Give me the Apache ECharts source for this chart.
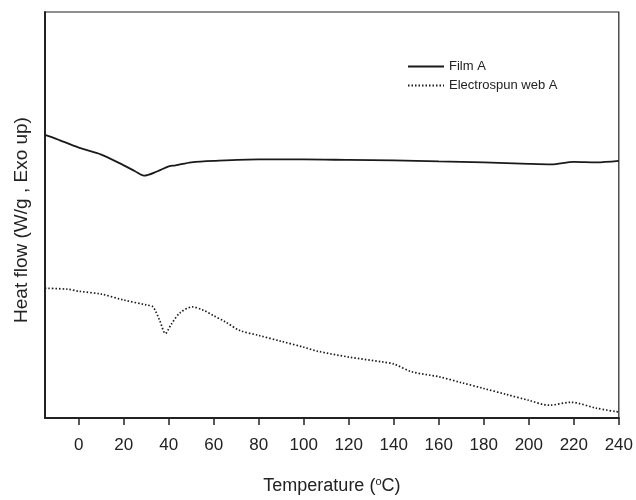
<!DOCTYPE html>
<html>
<head>
<meta charset="utf-8">
<script src="https://cdn.jsdelivr.net/npm/echarts@6/dist/echarts.min.js"></script>
<style>html,body{margin:0;padding:0;background:#fff}#c{width:636px;height:500px}</style>
</head>
<body>
<div id="c"></div>
<script>
// Temperature (°C) and heat flow (arbitrary units)
const filmT = [-15, -10, 0, 10, 20, 25, 29, 35, 40, 43, 50, 60, 80, 100, 120, 140, 160, 180, 200, 210, 220, 230, 240];
const filmV = [288, 284, 275, 268, 257, 251, 246.5, 251, 256, 257, 260, 261.5, 263, 263, 262.5, 262, 261, 260, 258.5, 258, 260.5, 260, 261.5];
const webT = [-15, -5, 0, 10, 20, 30, 33, 36, 38.5, 41, 45, 50.5, 55, 60, 65, 71.6, 80, 90, 100, 106, 120, 135, 140, 148, 160, 170, 180, 190, 200, 209, 218.7, 230, 240];
const webV = [132, 131, 129, 126, 120, 115, 113, 99, 86, 95, 107, 113, 110, 104, 98, 89, 84, 78, 72, 68, 62, 57, 55, 47, 42, 36, 30, 24, 18, 13, 16, 10, 6];
const xTicks = [0, 20, 40, 60, 80, 100, 120, 140, 160, 180, 200, 220, 240];
const seriesNames = ['Film A', 'Electrospun web A'];

const zip = (a, b) => a.map((v, i) => [v, b[i]]);
const FONT = 'Liberation Sans, Arial, sans-serif';
const chart = echarts.init(document.getElementById('c'), null, {renderer: 'canvas'});
chart.setOption({
  animation: false,
  backgroundColor: '#fff',
  textStyle: {fontFamily: FONT},
  grid: {left: 45, right: 17, top: 12, bottom: 75, show: true, borderColor: '#222', borderWidth: 1.2, backgroundColor: 'transparent'},
  legend: {
    orient: 'vertical', left: 402, top: 55, itemWidth: 36, itemHeight: 10, itemGap: 6,
    itemStyle: {opacity: 0},
    textStyle: {fontSize: 13, color: '#222', fontFamily: FONT},
    data: seriesNames
  },
  xAxis: {
    type: 'value', min: -15, max: 240,
    name: 'Temperature ({s|o}C)', nameLocation: 'middle', nameGap: 58,
    nameTextStyle: {fontSize: 18, color: '#222', fontFamily: FONT, rich: {s: {fontSize: 11, padding: [0, 0, 9, 0], fontFamily: FONT, color: '#222'}}},
    axisLine: {show: true, onZero: false, lineStyle: {color: '#222', width: 2}},
    axisTick: {show: true, inside: false, length: 7, customValues: xTicks, lineStyle: {color: '#222', width: 1.5}},
    axisLabel: {customValues: xTicks, fontSize: 17, color: '#222', margin: 19, fontFamily: FONT},
    splitLine: {show: false}
  },
  yAxis: {
    type: 'value', min: 0, max: 413,
    name: 'Heat flow (W/g , Exo up)', nameLocation: 'middle', nameGap: 14,
    nameTextStyle: {fontSize: 19, color: '#222', fontFamily: FONT, padding: [0, 10, 0, 0]},
    axisLine: {show: true, onZero: false, lineStyle: {color: '#222', width: 2}},
    axisTick: {show: false}, axisLabel: {show: false}, splitLine: {show: false}
  },
  series: [
    {name: seriesNames[0], type: 'line', data: zip(filmT, filmV), symbol: 'none', smooth: 0.3,
     lineStyle: {color: '#1a1a1a', width: 1.8, type: 'solid'}, itemStyle: {color: '#1a1a1a'}},
    {name: seriesNames[1], type: 'line', data: zip(webT, webV), symbol: 'none', smooth: 0.3,
     lineStyle: {color: '#1a1a1a', width: 1.7, type: [1.5, 2]}, itemStyle: {color: '#1a1a1a'}}
  ]
});
</script>
</body>
</html>
